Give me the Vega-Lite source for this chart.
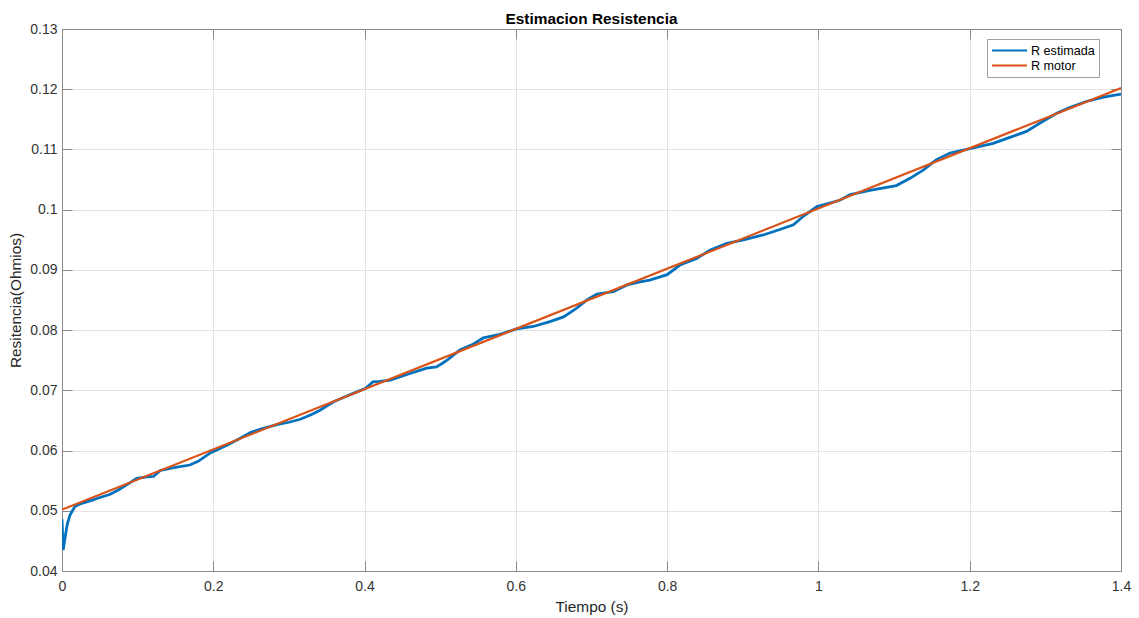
{
  "$schema": "https://vega.github.io/schema/vega-lite/v6.json",
  "autosize": "none",
  "padding": {"left": 62, "top": 29, "right": 18, "bottom": 47},
  "width": 1059,
  "height": 542,
  "background": "white",
  "config": {
    "font": "Liberation Sans",
    "view": {"stroke": null},
    "axis": {
      "labelFont": "Liberation Sans",
      "titleFont": "Liberation Sans",
      "labelFontSize": 14,
      "titleFontSize": 15.4,
      "titleFontWeight": "normal",
      "labelColor": "#333333",
      "titleColor": "#262626",
      "domainColor": "#8a8a8a",
      "tickColor": "#8a8a8a",
      "gridColor": "#e3e3e3",
      "labelFlush": false,
      "labelOverlap": false
    }
  },
  "title": {
    "text": "Estimacion Resistencia",
    "font": "Liberation Sans",
    "fontSize": 15.4,
    "fontWeight": "bold",
    "color": "#000000",
    "anchor": "middle",
    "offset": -5
  },
  "data": {
    "values": [
      {"t": 0, "R": 0.0486, "serie": "R estimada"},
      {"t": 0.0015, "R": 0.0435, "serie": "R estimada"},
      {"t": 0.004, "R": 0.0455, "serie": "R estimada"},
      {"t": 0.007, "R": 0.0478, "serie": "R estimada"},
      {"t": 0.0106, "R": 0.0493, "serie": "R estimada"},
      {"t": 0.017, "R": 0.0507, "serie": "R estimada"},
      {"t": 0.025, "R": 0.0512, "serie": "R estimada"},
      {"t": 0.041, "R": 0.0518, "serie": "R estimada"},
      {"t": 0.05, "R": 0.0522, "serie": "R estimada"},
      {"t": 0.063, "R": 0.0527, "serie": "R estimada"},
      {"t": 0.075, "R": 0.0535, "serie": "R estimada"},
      {"t": 0.088, "R": 0.0545, "serie": "R estimada"},
      {"t": 0.0987, "R": 0.0554, "serie": "R estimada"},
      {"t": 0.11, "R": 0.0556, "serie": "R estimada"},
      {"t": 0.121, "R": 0.0557, "serie": "R estimada"},
      {"t": 0.13, "R": 0.0567, "serie": "R estimada"},
      {"t": 0.15, "R": 0.0572, "serie": "R estimada"},
      {"t": 0.169, "R": 0.0576, "serie": "R estimada"},
      {"t": 0.18, "R": 0.0582, "serie": "R estimada"},
      {"t": 0.196, "R": 0.0596, "serie": "R estimada"},
      {"t": 0.218, "R": 0.0609, "serie": "R estimada"},
      {"t": 0.235, "R": 0.062, "serie": "R estimada"},
      {"t": 0.249, "R": 0.063, "serie": "R estimada"},
      {"t": 0.266, "R": 0.0637, "serie": "R estimada"},
      {"t": 0.284, "R": 0.0643, "serie": "R estimada"},
      {"t": 0.3, "R": 0.0647, "serie": "R estimada"},
      {"t": 0.315, "R": 0.0652, "serie": "R estimada"},
      {"t": 0.33, "R": 0.066, "serie": "R estimada"},
      {"t": 0.341, "R": 0.0667, "serie": "R estimada"},
      {"t": 0.359, "R": 0.0681, "serie": "R estimada"},
      {"t": 0.372, "R": 0.0688, "serie": "R estimada"},
      {"t": 0.385, "R": 0.0695, "serie": "R estimada"},
      {"t": 0.401, "R": 0.0703, "serie": "R estimada"},
      {"t": 0.411, "R": 0.0714, "serie": "R estimada"},
      {"t": 0.42, "R": 0.0715, "serie": "R estimada"},
      {"t": 0.434, "R": 0.0717, "serie": "R estimada"},
      {"t": 0.46, "R": 0.0728, "serie": "R estimada"},
      {"t": 0.482, "R": 0.0737, "serie": "R estimada"},
      {"t": 0.495, "R": 0.0739, "serie": "R estimada"},
      {"t": 0.503, "R": 0.0745, "serie": "R estimada"},
      {"t": 0.51, "R": 0.0751, "serie": "R estimada"},
      {"t": 0.526, "R": 0.0767, "serie": "R estimada"},
      {"t": 0.544, "R": 0.0777, "serie": "R estimada"},
      {"t": 0.557, "R": 0.0787, "serie": "R estimada"},
      {"t": 0.579, "R": 0.0793, "serie": "R estimada"},
      {"t": 0.601, "R": 0.0802, "serie": "R estimada"},
      {"t": 0.623, "R": 0.0806, "serie": "R estimada"},
      {"t": 0.645, "R": 0.0814, "serie": "R estimada"},
      {"t": 0.663, "R": 0.0822, "serie": "R estimada"},
      {"t": 0.68, "R": 0.0836, "serie": "R estimada"},
      {"t": 0.694, "R": 0.085, "serie": "R estimada"},
      {"t": 0.707, "R": 0.086, "serie": "R estimada"},
      {"t": 0.729, "R": 0.0864, "serie": "R estimada"},
      {"t": 0.747, "R": 0.0875, "serie": "R estimada"},
      {"t": 0.764, "R": 0.088, "serie": "R estimada"},
      {"t": 0.777, "R": 0.0883, "serie": "R estimada"},
      {"t": 0.8, "R": 0.0892, "serie": "R estimada"},
      {"t": 0.817, "R": 0.0908, "serie": "R estimada"},
      {"t": 0.839, "R": 0.0919, "serie": "R estimada"},
      {"t": 0.857, "R": 0.0933, "serie": "R estimada"},
      {"t": 0.879, "R": 0.0944, "serie": "R estimada"},
      {"t": 0.901, "R": 0.095, "serie": "R estimada"},
      {"t": 0.927, "R": 0.0958, "serie": "R estimada"},
      {"t": 0.949, "R": 0.0967, "serie": "R estimada"},
      {"t": 0.967, "R": 0.0975, "serie": "R estimada"},
      {"t": 0.98, "R": 0.0989, "serie": "R estimada"},
      {"t": 0.998, "R": 0.1005, "serie": "R estimada"},
      {"t": 1.015, "R": 0.1011, "serie": "R estimada"},
      {"t": 1.029, "R": 0.1016, "serie": "R estimada"},
      {"t": 1.042, "R": 0.1025, "serie": "R estimada"},
      {"t": 1.068, "R": 0.1032, "serie": "R estimada"},
      {"t": 1.09, "R": 0.1037, "serie": "R estimada"},
      {"t": 1.103, "R": 0.104, "serie": "R estimada"},
      {"t": 1.121, "R": 0.1052, "serie": "R estimada"},
      {"t": 1.139, "R": 0.1066, "serie": "R estimada"},
      {"t": 1.156, "R": 0.1083, "serie": "R estimada"},
      {"t": 1.174, "R": 0.1094, "serie": "R estimada"},
      {"t": 1.196, "R": 0.11, "serie": "R estimada"},
      {"t": 1.209, "R": 0.1104, "serie": "R estimada"},
      {"t": 1.231, "R": 0.111, "serie": "R estimada"},
      {"t": 1.253, "R": 0.112, "serie": "R estimada"},
      {"t": 1.275, "R": 0.113, "serie": "R estimada"},
      {"t": 1.293, "R": 0.1144, "serie": "R estimada"},
      {"t": 1.315, "R": 0.116, "serie": "R estimada"},
      {"t": 1.333, "R": 0.117, "serie": "R estimada"},
      {"t": 1.355, "R": 0.118, "serie": "R estimada"},
      {"t": 1.377, "R": 0.1187, "serie": "R estimada"},
      {"t": 1.4, "R": 0.1192, "serie": "R estimada"},
      {"t": 0, "R": 0.0502, "serie": "R motor"},
      {"t": 1.4, "R": 0.1202, "serie": "R motor"}
    ]
  },
  "encoding": {
    "x": {
      "field": "t",
      "type": "quantitative",
      "scale": {"domain": [0, 1.4], "nice": false, "zero": false}
    },
    "y": {
      "field": "R",
      "type": "quantitative",
      "scale": {"domain": [0.04, 0.13], "nice": false, "zero": false}
    },
    "color": {
      "field": "serie",
      "type": "nominal",
      "scale": {"domain": ["R estimada", "R motor"], "range": ["#0072BD", "#D95319"]},
      "legend": {
        "title": null,
        "orient": "none",
        "legendX": 925,
        "legendY": 10,
        "padding": 4,
        "clipHeight": 15,
        "symbolType": "stroke",
        "symbolSize": 1225,
        "symbolStrokeWidth": 2,
        "labelOffset": 3,
        "labelFont": "Liberation Sans",
        "labelFontSize": 12.6,
        "labelColor": "#000000",
        "strokeColor": "#a0a0a0",
        "fillColor": "white",
        "rowPadding": 0
      }
    }
  },
  "layer": [
    {
      "transform": [{"filter": "datum.serie == 'R estimada'"}],
      "mark": {"type": "line", "strokeWidth": 2.8, "clip": true},
      "encoding": {
        "x": {
          "field": "t", "type": "quantitative",
          "axis": {"orient": "bottom", "title": "Tiempo (s)", "values": [0, 0.2, 0.4, 0.6, 0.8, 1, 1.2, 1.4], "format": ".1~f", "grid": true, "tickSize": -10, "labelPadding": 18, "titlePadding": 6}
        },
        "y": {
          "field": "R", "type": "quantitative",
          "axis": {"orient": "left", "title": "Resitencia(Ohmios)", "values": [0.04, 0.05, 0.06, 0.07, 0.08, 0.09, 0.1, 0.11, 0.12, 0.13], "format": ".2~f", "grid": true, "tickSize": -10, "labelPadding": 15, "titlePadding": 6}
        }
      }
    },
    {
      "transform": [{"filter": "datum.serie == 'R motor'"}],
      "mark": {"type": "line", "strokeWidth": 2.2, "clip": true},
      "encoding": {
        "x": {
          "field": "t", "type": "quantitative",
          "axis": {"orient": "top", "title": null, "labels": false, "values": [0, 0.2, 0.4, 0.6, 0.8, 1, 1.2, 1.4], "grid": false, "tickSize": -10}
        },
        "y": {
          "field": "R", "type": "quantitative",
          "axis": {"orient": "right", "title": null, "labels": false, "values": [0.04, 0.05, 0.06, 0.07, 0.08, 0.09, 0.1, 0.11, 0.12, 0.13], "grid": false, "tickSize": -10}
        }
      }
    }
  ],
  "resolve": {"axis": {"x": "independent", "y": "independent"}}
}
